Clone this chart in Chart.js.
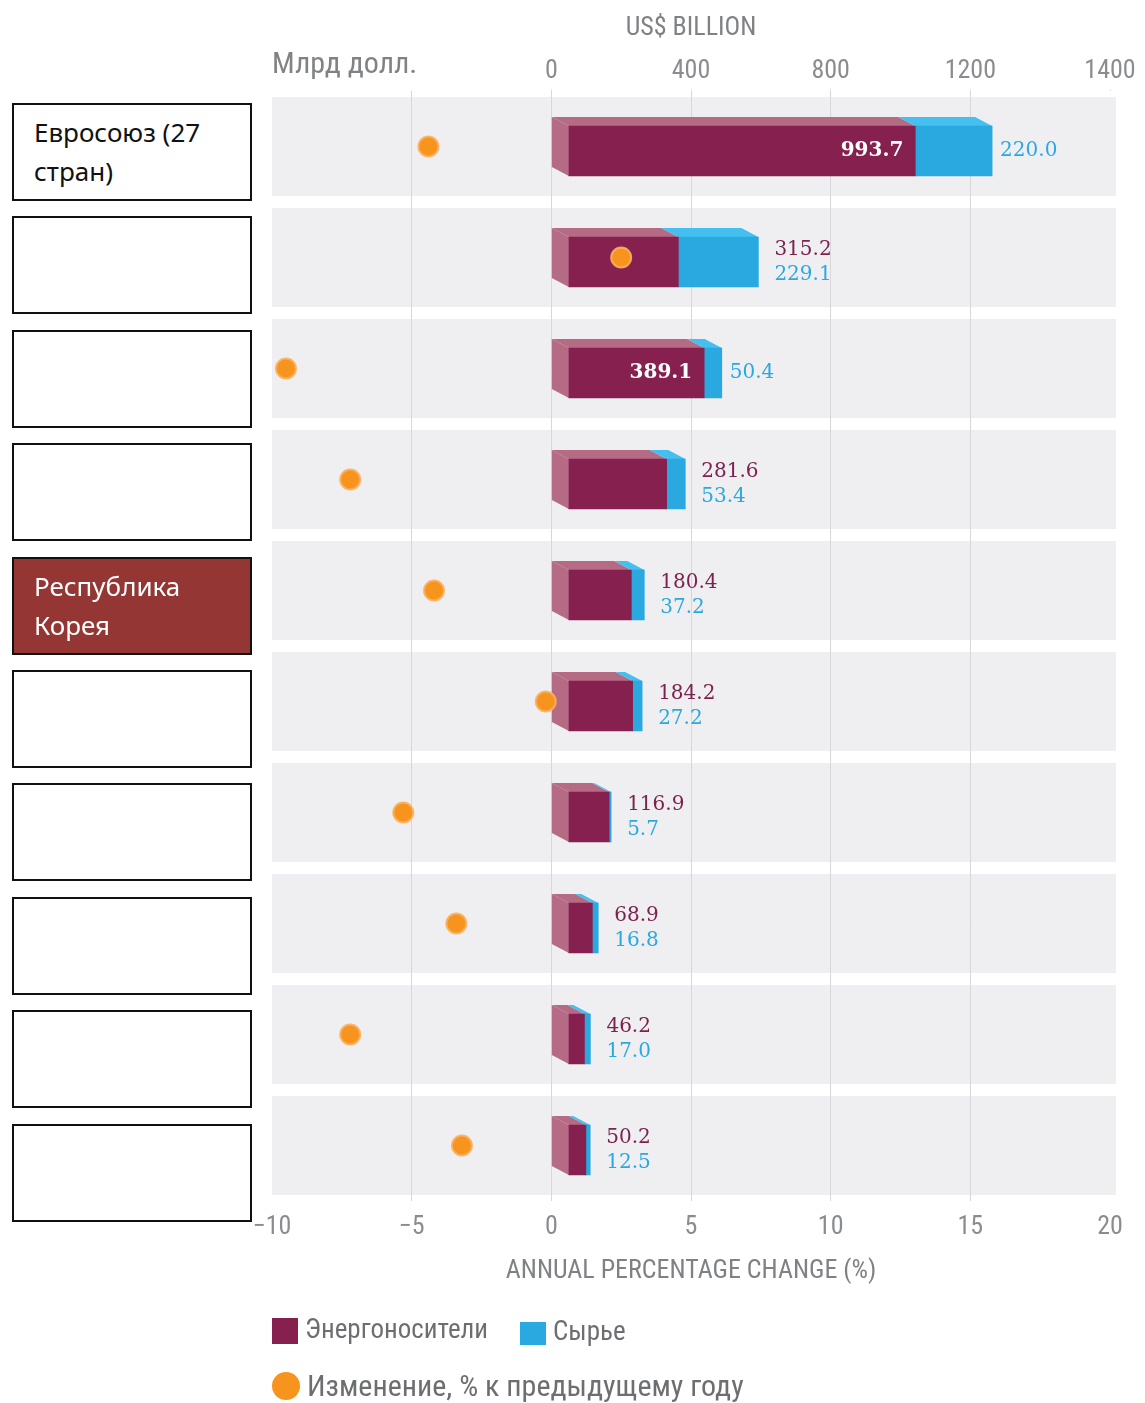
<!DOCTYPE html>
<html>
<head>
<meta charset="utf-8">
<script src="https://cdn.jsdelivr.net/npm/chart.js@4.4.1/dist/chart.umd.min.js"></script>
<style>
  body { margin: 0; background: #fff; }
  #wrap { position: relative; width: 1145px; height: 1403px; }
  canvas { position: absolute; left: 0; top: 0; }
  .box {
    position: absolute; left: 12px; width: 240px; height: 98px; box-sizing: border-box;
    border: 2px solid #111; background: #fff; color: #111;
    font: 26px 'Noto Sans', sans-serif; line-height: 39px; padding: 8px 0 0 20px;
    white-space: pre-line;
  }
  .box.hl { background: #943634; color: #fff; }
</style>
</head>
<body>
<div id="wrap">
  <canvas id="grafico" width="1145" height="1403"></canvas>
</div>
<script>
const categories = ['Евросоюз (27\nстран)', '', '', '', 'Республика\nКорея', '', '', '', '', ''];
const energy = [993.7, 315.2, 389.1, 281.6, 180.4, 184.2, 116.9, 68.9, 46.2, 50.2];
const raw = [220.0, 229.1, 50.4, 53.4, 37.2, 27.2, 5.7, 16.8, 17.0, 12.5];
const change = [-4.4, 2.5, -9.5, -7.2, -4.2, -0.2, -5.3, -3.4, -7.2, -3.2];
const topTicks = [0, 400, 800, 1200, 1600];
const topTickLabels = ['0', '400', '800', '1200', '1400'];
const highlighted = 4;

const narrow = "'Liberation Sans Narrow', 'Roboto Condensed', Roboto, sans-serif";
const DX = 17, DY = 4.5;

// left label boxes
const wrap = document.getElementById('wrap');
categories.forEach((c, i) => {
  const d = document.createElement('div');
  d.className = 'box' + (i === highlighted ? ' hl' : '');
  d.style.top = (103 + i * 113.4) + 'px';
  d.textContent = c;
  wrap.appendChild(d);
});

const cube = {
  id: 'cube',
  beforeDraw(chart) {
    const { ctx, chartArea: a, scales: { y } } = chart;
    ctx.save();
    ctx.fillStyle = '#efeff2';
    categories.forEach((c, i) => {
      const cy = y.getPixelForValue(i);
      ctx.fillRect(a.left, cy - 49.5, a.right - a.left + 6, 99);
    });
    ctx.restore();
  },
  beforeDatasetsDraw(chart) {
    const ctx = chart.ctx;
    const m0 = chart.getDatasetMeta(0), m1 = chart.getDatasetMeta(1);
    ctx.save();
    m0.data.forEach((bar, i) => {
      [[bar, '#b66b85', true], [m1.data[i], '#43bff0', false]].forEach(([el, col, side]) => {
        const { x, y, base, height } = el.getProps(['x', 'y', 'base', 'height'], true);
        const t = y - height / 2, b = y + height / 2;
        ctx.fillStyle = col;
        ctx.beginPath();
        ctx.moveTo(base, t - DY); ctx.lineTo(x, t - DY);
        ctx.lineTo(x + DX, t + DY); ctx.lineTo(base + DX, t + DY);
        ctx.closePath(); ctx.fill();
        if (side) {
          ctx.beginPath();
          ctx.moveTo(base, t - DY); ctx.lineTo(base + DX, t + DY);
          ctx.lineTo(base + DX, b + DY); ctx.lineTo(base, b - DY);
          ctx.closePath(); ctx.fill();
        }
      });
    });
    ctx.restore();
  },
  beforeDatasetDraw(chart, args) {
    if (args.meta.type !== 'bar') return;
    chart.ctx.save();
    chart.ctx.translate(DX, DY);
  },
  afterDatasetDraw(chart, args) {
    if (args.meta.type !== 'bar') return;
    chart.ctx.restore();
  },
  afterDatasetsDraw(chart) {
    const ctx = chart.ctx;
    const m0 = chart.getDatasetMeta(0), m1 = chart.getDatasetMeta(1);
    ctx.save();
    ctx.textBaseline = 'middle';
    m0.data.forEach((bar, i) => {
      const eEnd = bar.x + DX, tEnd = m1.data[i].x + DX, cy = bar.y + DY;
      if (energy[i] >= 350) {
        ctx.font = "bold 20px 'DejaVu Serif', serif";
        ctx.fillStyle = '#fff';
        ctx.textAlign = 'right';
        ctx.fillText(energy[i].toFixed(1), eEnd - 12, cy);
        ctx.font = "20px 'DejaVu Serif', serif";
        ctx.fillStyle = '#2aa8e0';
        ctx.textAlign = 'left';
        ctx.fillText(raw[i].toFixed(1), tEnd + 8, cy);
      } else {
        ctx.font = "20px 'DejaVu Serif', serif";
        ctx.textAlign = 'left';
        ctx.fillStyle = '#7b2350';
        ctx.fillText(energy[i].toFixed(1), tEnd + 16, cy - 12);
        ctx.fillStyle = '#2aa8e0';
        ctx.fillText(raw[i].toFixed(1), tEnd + 16, cy + 13);
      }
    });
    ctx.restore();
  },
  afterDraw(chart) {
    const ctx = chart.ctx;
    ctx.save();
    ctx.textBaseline = 'middle';
    ctx.textAlign = 'left';
    ctx.fillStyle = '#808285';
    ctx.font = '30px ' + narrow;
    ctx.fillText('Млрд долл.', 272, 65);

    ctx.fillStyle = '#85204f';
    ctx.fillRect(272, 1318, 26, 26);
    ctx.fillStyle = '#29a9e0';
    ctx.fillRect(520, 1322, 26, 23);
    ctx.fillStyle = '#f7941d';
    ctx.beginPath(); ctx.arc(286, 1386, 14, 0, Math.PI * 2); ctx.fill();

    ctx.fillStyle = '#6d6e71';
    ctx.font = '27px ' + narrow;
    ctx.fillText('Энергоносители', 305, 1331);
    ctx.fillText('Сырье', 553, 1333);
    ctx.font = '30px ' + narrow;
    ctx.fillText('Изменение, % к предыдущему году', 307, 1388);
    ctx.restore();
  }
};

new Chart(document.getElementById('grafico').getContext('2d'), {
  data: {
    labels: categories,
    datasets: [
      { type: 'bar', label: 'Энергоносители', data: energy, xAxisID: 'xb', backgroundColor: '#86214f', barThickness: 50, order: 1 },
      { type: 'bar', label: 'Сырье', data: raw, xAxisID: 'xb', backgroundColor: '#29a9e0', barThickness: 50, order: 1 },
      { type: 'line', label: 'Изменение, % к предыдущему году', data: change, xAxisID: 'x', showLine: false, clip: false,
        pointRadius: 10, pointHoverRadius: 10, pointBackgroundColor: '#f7941d', pointBorderColor: 'rgba(251,176,96,0.9)', pointBorderWidth: 2, order: 0 }
    ]
  },
  options: {
    indexAxis: 'y',
    responsive: false,
    animation: false,
    layout: { padding: { left: 272, right: 35, top: 0, bottom: 102 } },
    plugins: { legend: { display: false }, tooltip: { enabled: false } },
    scales: {
      y: { display: false, stacked: true },
      xb: {
        position: 'top', stacked: true, min: -800, max: 1600,
        afterBuildTicks(s) { s.ticks = topTicks.map(v => ({ value: v })); },
        afterFit(s) { s.height = 91; },
        grid: { drawOnChartArea: false, drawTicks: true, tickLength: 2, color: '#e6e6ea' },
        border: { display: false },
        ticks: { padding: 2, color: '#8a8c90', font: { family: narrow, size: 26 },
          callback(v) { const k = topTicks.indexOf(v); return k >= 0 ? topTickLabels[k] : ''; } },
        title: { display: true, text: 'US$ BILLION', color: '#7f8185', font: { family: narrow, size: 26 }, padding: { top: 13, bottom: 0 } }
      },
      x: {
        position: 'bottom', min: -10, max: 20,
        afterFit(s) { s.height = 100; },
        grid: { drawTicks: false, color: ctx => (ctx.tick && (ctx.tick.value === -10 || ctx.tick.value === 20)) ? 'rgba(0,0,0,0)' : '#d6d6dc' },
        border: { display: false },
        ticks: { stepSize: 5, padding: 11, color: '#8a8c90', font: { family: narrow, size: 26 },
          callback: v => v < 0 ? '\u2212' + Math.abs(v) : String(v) },
        title: { display: true, text: 'ANNUAL PERCENTAGE CHANGE (%)', color: '#7f8185', font: { family: narrow, size: 26 }, padding: { top: 0, bottom: 14 } }
      }
    }
  },
  plugins: [cube]
});
</script>
</body>
</html>
